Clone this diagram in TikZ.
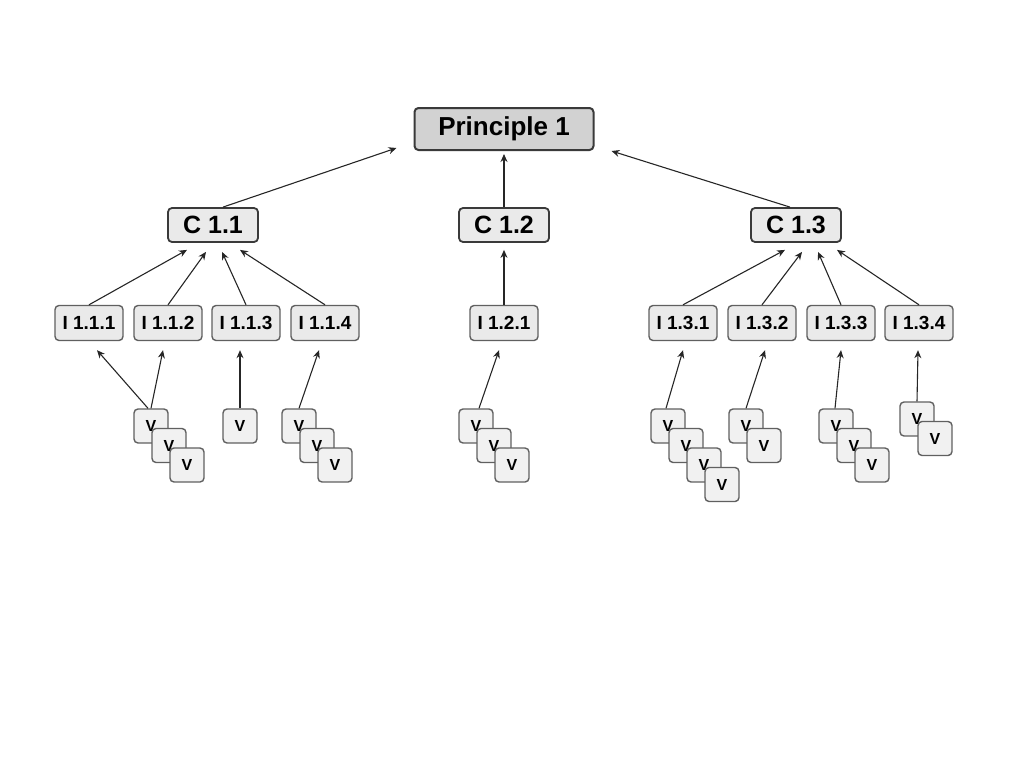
\documentclass[tikz,border=0pt]{standalone}
\usepackage{fontspec}
\setmainfont{Liberation Sans}
\usepackage{tikz}
\usetikzlibrary{arrows.meta}

\definecolor{prinfill}{HTML}{D2D2D2}
\definecolor{boxfill}{HTML}{EAEAEA}
\definecolor{vfill}{HTML}{F1F1F1}
\definecolor{edge}{HTML}{3A3A3A}
\definecolor{soft}{HTML}{606060}

\begin{document}
\begin{tikzpicture}[x=1pt,y=-1pt,
    prin/.style={draw=edge,line width=2pt,rounded corners=4pt,fill=prinfill,
        minimum width=179pt,minimum height=42pt,inner sep=0pt,
        font=\fontsize{26}{28}\selectfont\bfseries},
    cbox/.style={draw=edge,line width=1.8pt,rounded corners=4pt,fill=boxfill,
        minimum width=90pt,minimum height=34pt,inner sep=0pt,
        font=\fontsize{25}{27}\selectfont\bfseries},
    ibox/.style={draw=soft,line width=1.4pt,rounded corners=4pt,fill=boxfill,
        minimum width=68pt,minimum height=35pt,inner sep=0pt,
        font=\fontsize{19}{20}\selectfont\bfseries},
    vbox/.style={draw=soft,line width=1.4pt,rounded corners=4pt,fill=vfill,
        minimum width=34pt,minimum height=34pt,inner sep=0pt,
        font=\fontsize{16}{17}\selectfont\bfseries},
    arr/.style={line width=1.1pt,draw=black!85,-{Stealth[length=8pt,width=7pt]}}]
    \useasboundingbox (0,0) rectangle (1024,768);

    % top and criteria
    \node[prin] (p1) at (504,129) {Principle 1};
    \node[cbox] (c11) at (213,225) {C 1.1};
    \node[cbox] (c12) at (504,225) {C 1.2};
    \node[cbox] (c13) at (796,225) {C 1.3};

    % indicators
    \node[ibox] (i111) at (89,323) {I 1.1.1};
    \node[ibox] (i112) at (168,323) {I 1.1.2};
    \node[ibox] (i113) at (246,323) {I 1.1.3};
    \node[ibox] (i114) at (325,323) {I 1.1.4};
    \node[ibox] (i121) at (504,323) {I 1.2.1};
    \node[ibox] (i131) at (683,323) {I 1.3.1};
    \node[ibox] (i132) at (762,323) {I 1.3.2};
    \node[ibox] (i133) at (841,323) {I 1.3.3};
    \node[ibox] (i134) at (919,323) {I 1.3.4};

    % stacks of V
    \foreach \g/\x/\y/\k in {a/151/426/3, b/240/426/1, c/299/426/3, d/476/426/3,
                             e/668/426/4, f/746/426/2, g/836/426/3, h/917/419/2}
        \foreach \j in {1,...,\k}
            \node[vbox] (v\g\j) at ({\x+18*(\j-1)},{\y+19.5*(\j-1)}) {V};

    % criteria to principle
    \draw[arr] ([xshift=10]c11.north) -- ([xshift=-17,yshift=3]p1.south west);
    \draw[arr] (c12.north) -- ([yshift=-3]p1.south);
    \draw[arr] ([xshift=-6]c13.north) -- ([xshift=17]p1.south east);

    % indicators to criteria
    \draw[arr] (i111.north) -- ([xshift=-26,yshift=-7]c11.south);
    \draw[arr] (i112.north) -- ([xshift=-7,yshift=-9]c11.south);
    \draw[arr] (i113.north) -- ([xshift=9,yshift=-9]c11.south);
    \draw[arr] (i114.north) -- ([xshift=27,yshift=-7]c11.south);
    \draw[arr] (i121.north) -- ([yshift=-7]c12.south);
    \draw[arr] (i131.north) -- ([xshift=-11,yshift=-7]c13.south);
    \draw[arr] (i132.north) -- ([xshift=6,yshift=-9]c13.south);
    \draw[arr] (i133.north) -- ([xshift=22,yshift=-9]c13.south);
    \draw[arr] (i134.north) -- ([xshift=41,yshift=-7]c13.south);

    % values to indicators
    \draw[arr] ([xshift=-3]va1.north) -- ([xshift=8,yshift=-9]i111.south);
    \draw[arr] (va1.north) -- ([xshift=-5,yshift=-9]i112.south);
    \draw[arr] (vb1.north) -- ([xshift=-6,yshift=-9]i113.south);
    \draw[arr] (vc1.north) -- ([xshift=-6,yshift=-9]i114.south);
    \draw[arr] ([xshift=3]vd1.north) -- ([xshift=-5,yshift=-9]i121.south);
    \draw[arr] ([xshift=-2]ve1.north) -- ([yshift=-9]i131.south);
    \draw[arr] (vf1.north) -- ([xshift=3,yshift=-9]i132.south);
    \draw[arr] ([xshift=-1]vg1.north) -- ([yshift=-9]i133.south);
    \draw[arr] (vh1.north) -- ([xshift=-1,yshift=-9]i134.south);
\end{tikzpicture}
\end{document}
